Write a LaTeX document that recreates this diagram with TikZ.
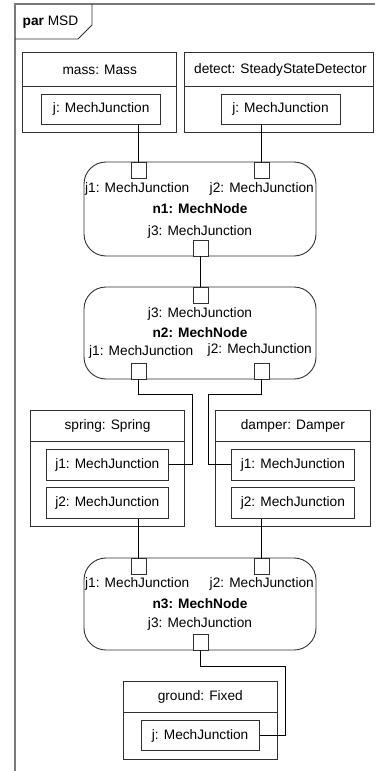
\documentclass[tikz,border=0pt]{standalone}
\usepackage{fontspec}
\setmainfont{Liberation Sans}
\usetikzlibrary{calc}
\definecolor{edge}{HTML}{303030}
\definecolor{framegray}{HTML}{7A7A7A}
\tikzset{
  txt/.style={inner sep=0pt, font=\fontsize{13.7}{15}\selectfont},
  bold/.style={txt, font=\fontsize{13.7}{15}\selectfont\bfseries},
  part/.style={draw=edge, line width=0.9pt, inner sep=0pt, rectangle},
  jbox/.style={part, minimum height=30pt, font=\fontsize{13.7}{15}\selectfont},
  mnode/.style={draw=edge, line width=0.9pt, rounded corners=22pt, inner sep=0pt, minimum width=232pt},
  port/.style={draw=edge, line width=0.9pt, fill=white, inner sep=0pt, minimum width=15pt, minimum height=16pt},
  wire/.style={draw=black, line width=0.9pt},
  frameline/.style={draw=framegray, line width=1.6pt}
}
\begin{document}
\begin{tikzpicture}[x=1pt, y=-1pt]
\useasboundingbox (0,0) rectangle (375,771);

% diagram frame and its name tab
\draw[frameline] (15,771) -- (15,4) -- (375,4);
\draw[edge, line width=0.9pt] (15,39) -- (78,39) -- (92,25) -- (92,4);
\node[txt, anchor=west] (title) at (22.5,22.5) {\textbf{par} MSD};

% mass and detector parts
\node[part, minimum width=154pt, minimum height=80pt] (mass) at (99.7,92) {};
\draw[edge, line width=0.9pt] (mass.west |- 0,86) -- (mass.east |- 0,86);
\node[txt] (masslbl) at (99.7,69.5) {mass: Mass};
\node[jbox, minimum width=119pt] (massj) at (101.2,109) {j: MechJunction};

\node[part, minimum width=189.5pt, minimum height=80pt] (detect) at (278.75,92) {};
\draw[edge, line width=0.9pt] (detect.west |- 0,86) -- (detect.east |- 0,86);
\node[txt] (detectlbl) at (280.5,69.5) {detect: SteadyStateDetector};
\node[jbox, minimum width=119pt] (detectj) at (280.5,109) {j: MechJunction};

% n1
\node[mnode, minimum height=94pt] (n1) at (200,209) {};
\node[port] (n1p1) at (138.5,170.3) {};
\node[port] (n1p2) at (261.5,170.3) {};
\node[port] (n1p3) at (200.5,248) {};
\node[txt, anchor=west] (n1l1) at (85,189) {j1: MechJunction};
\node[txt, anchor=east] (n1l2) at (314,189) {j2: MechJunction};
\node[bold] (n1name) at (200,208.5) {n1: MechNode};
\node[txt] (n1l3) at (200,232) {j3: MechJunction};

% n2
\node[mnode, minimum height=92pt] (n2) at (200,333) {};
\node[port] (n2p3) at (200.5,295) {};
\node[port] (n2p1) at (138.5,371) {};
\node[port] (n2p2) at (261.5,371) {};
\node[txt] (n2l3) at (200,313.5) {j3: MechJunction};
\node[bold] (n2name) at (200,332.5) {n2: MechNode};
\node[txt, anchor=west] (n2l1) at (89,352) {j1: MechJunction};
\node[txt, anchor=east] (n2l2) at (312,350) {j2: MechJunction};

% spring and damper parts
\node[part, minimum width=153.6pt, minimum height=116pt] (spring) at (107.5,468.7) {};
\draw[edge, line width=0.9pt] (spring.west |- 0,441) -- (spring.east |- 0,441);
\node[txt] (springlbl) at (107.5,425.5) {spring: Spring};
\node[jbox, minimum width=122pt, minimum height=31pt] (springj1) at (107.3,464.5) {j1: MechJunction};
\node[jbox, minimum width=122pt, minimum height=30.6pt] (springj2) at (107.3,503) {j2: MechJunction};

\node[part, minimum width=154.3pt, minimum height=116pt] (damper) at (292.85,468.7) {};
\draw[edge, line width=0.9pt] (damper.west |- 0,441) -- (damper.east |- 0,441);
\node[txt] (damperlbl) at (292.85,425.5) {damper: Damper};
\node[jbox, minimum width=122.3pt, minimum height=31pt] (damperj1) at (292.85,464.5) {j1: MechJunction};
\node[jbox, minimum width=122.3pt, minimum height=30.6pt] (damperj2) at (292.85,503) {j2: MechJunction};

% n3
\node[mnode, minimum height=92pt] (n3) at (200,604) {};
\node[port] (n3p1) at (138.5,566) {};
\node[port] (n3p2) at (261.5,566) {};
\node[port] (n3p3) at (200.5,642) {};
\node[txt, anchor=west] (n3l1) at (85,583.5) {j1: MechJunction};
\node[txt, anchor=east] (n3l2) at (314,583.5) {j2: MechJunction};
\node[bold] (n3name) at (200,603.5) {n3: MechNode};
\node[txt] (n3l3) at (200,624) {j3: MechJunction};

% ground part
\node[part, minimum width=154pt, minimum height=78pt] (ground) at (200.3,720) {};
\draw[edge, line width=0.9pt] (ground.west |- 0,712) -- (ground.east |- 0,712);
\node[txt] (groundlbl) at (200.3,696.7) {ground: Fixed};
\node[jbox, minimum width=118.3pt] (groundj) at (200.15,735.7) {j: MechJunction};

% bend points of the routed wires
\coordinate (bendA) at (192.7,394);
\coordinate (bendB) at (208,394);
\coordinate (bendC) at (285,666);

% connectors
\draw[wire] (n1p1.north) -- (n1p1.north |- massj.south);
\draw[wire] (n1p2.north) -- (n1p2.north |- detectj.south);
\draw[wire] (n1p3.south) -- (n2p3.north);
\draw[wire] (n2p1.south) |- (bendA) |- (springj1.east);
\draw[wire] (n2p2.south) |- (bendB) |- (damperj1.west);
\draw[wire] (n3p1.north) -- (n3p1.north |- springj2.south);
\draw[wire] (n3p2.north) -- (n3p2.north |- damperj2.south);
\draw[wire] (n3p3.south) |- (bendC) |- (groundj.east);
\end{tikzpicture}
\end{document}
